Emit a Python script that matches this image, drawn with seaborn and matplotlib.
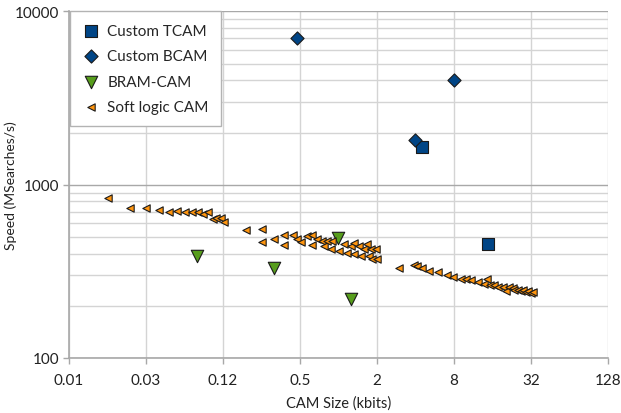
import matplotlib
matplotlib.use("Agg")
import matplotlib.pyplot as plt
import matplotlib.ticker as mticker
import numpy as np
import pandas as pd
import seaborn as sns

# ---------------- data ----------------
tcam_size = [4.5, 14.7]
tcam_speed = [1660, 452]

bcam_size = [0.47, 8.0, 3.97]
bcam_speed = [7000, 4000, 1800]

bram_size = [0.079, 0.313, 0.99, 1.25]
bram_speed = [390, 331, 490, 219]

soft_size = [0.0158, 0.0236, 0.0315, 0.0394, 0.0472, 0.0548, 0.0636, 0.0718, 0.0795,
             0.0877, 0.0953, 0.105, 0.111, 0.120, 0.127, 0.188, 0.251, 0.251, 0.313,
             0.375, 0.375, 0.441, 0.477, 0.506, 0.571, 0.625, 0.625, 0.684, 0.749,
             0.770, 0.820, 0.869, 0.897, 1.01, 1.105, 1.175, 1.247, 1.323, 1.323,
             1.448, 1.494, 1.585, 1.685, 1.735, 1.789, 1.844, 1.957, 2.018, 2.98,
             3.90, 4.15, 4.54, 5.12, 6.02, 7.04, 7.80, 9.06, 9.91, 10.85, 12.24,
             13.79, 14.48, 15.36, 16.5, 17.56, 19.2, 20.4, 21.6, 23.0, 23.7, 25.2,
             26.7, 27.5, 29.2, 30.2, 32.0, 33.0]
soft_speed = [841, 729, 736, 717, 695, 701, 695, 695, 695,
              679, 692, 636, 645, 638, 608, 551, 557, 469, 487,
              509, 450, 509, 483, 466, 505, 509, 446, 487, 472,
              442, 472, 423, 472, 413, 452, 405, 442, 458, 396,
              442, 387, 427, 452, 387, 423, 373, 423, 370, 331,
              343, 338, 331, 317, 314, 300, 292, 287, 284, 280, 275,
              268, 284, 263, 262, 257, 257, 243, 257, 254, 248, 248,
              243, 248, 239, 245, 238, 239]

x_ticks = [2.0 ** k for k in range(-7, 8, 2)]
x_tick_labels = ["0.01", "0.03", "0.12", "0.5", "2", "8", "32", "128"]
y_ticks = [100, 1000, 10000]
y_tick_labels = ["100", "1000", "10000"]

series = [
    ("Custom TCAM", tcam_size, tcam_speed, "s", "#004586", 70),
    ("Custom BCAM", bcam_size, bcam_speed, "D", "#004586", 45),
    ("BRAM-CAM", bram_size, bram_speed, "v", "#579D1C", 80),
    ("Soft logic CAM", soft_size, soft_speed, "<", "#FF950E", 28),
]

# ---------------- plot ----------------
sns.set_theme(style="white")
plt.rcParams["font.family"] = ["Lato", "DejaVu Sans"]

fig = plt.figure(figsize=(6.21, 4.14), dpi=100)
ax = fig.add_axes([0.111, 0.133, 0.868, 0.837])

for name, xs, ys, mk, col, sz in series:
    df = pd.DataFrame({"size": xs, "speed": ys})
    sns.scatterplot(data=df, x="size", y="speed", marker=mk, color=col, s=sz,
                    edgecolor="#1a1a1a", linewidth=0.8, label=name, ax=ax, zorder=3)

ax.set_xscale("log")
ax.set_yscale("log")
ax.set_xlim(2.0 ** -7, 2.0 ** 7)
ax.set_ylim(100, 10000)

ax.xaxis.set_major_locator(mticker.FixedLocator(x_ticks))
ax.xaxis.set_major_formatter(mticker.FixedFormatter(x_tick_labels))
ax.xaxis.set_minor_locator(mticker.NullLocator())
ax.yaxis.set_major_locator(mticker.FixedLocator(y_ticks))
ax.yaxis.set_major_formatter(mticker.FixedFormatter(y_tick_labels))
ax.yaxis.set_minor_locator(mticker.LogLocator(base=10, subs=np.arange(2, 10)))
ax.yaxis.set_minor_formatter(mticker.NullFormatter())

ax.grid(True, which="major", axis="x", color="#d4d4d4", linewidth=1.0, zorder=0)
ax.grid(True, which="major", axis="y", color="#a8a8a8", linewidth=1.0, zorder=0)
ax.grid(True, which="minor", axis="y", color="#d4d4d4", linewidth=1.0, zorder=0)
ax.set_axisbelow(True)

for side in ["top", "right"]:
    ax.spines[side].set_visible(False)
for side in ["left", "bottom"]:
    ax.spines[side].set_color("#a8a8a8")
    ax.spines[side].set_linewidth(1.2)

ax.tick_params(axis="both", which="major", direction="out", length=4, width=1,
               color="#a8a8a8", labelsize=11, labelcolor="#222222", bottom=True, left=True)
ax.tick_params(axis="x", which="major", pad=7)
ax.tick_params(axis="y", which="major", pad=3)
ax.tick_params(axis="y", which="minor", length=0)

ax.set_xlabel("CAM Size (kbits)", fontsize=10.5, color="#222222", labelpad=6)
ax.set_ylabel("Speed (MSearches/s)", fontsize=10, color="#222222")
ax.yaxis.set_label_coords(-0.097, 0.5)

leg = ax.legend(loc="upper left", bbox_to_anchor=(0.002, 1.0), frameon=True, fancybox=False,
                edgecolor="#b3b3b3", framealpha=1, fontsize=11, borderpad=0.8,
                handletextpad=0.45, labelspacing=0.75, handlelength=1.2, borderaxespad=0.0)
leg.get_frame().set_linewidth(1.0)

fig.savefig("out.png", dpi=100)
